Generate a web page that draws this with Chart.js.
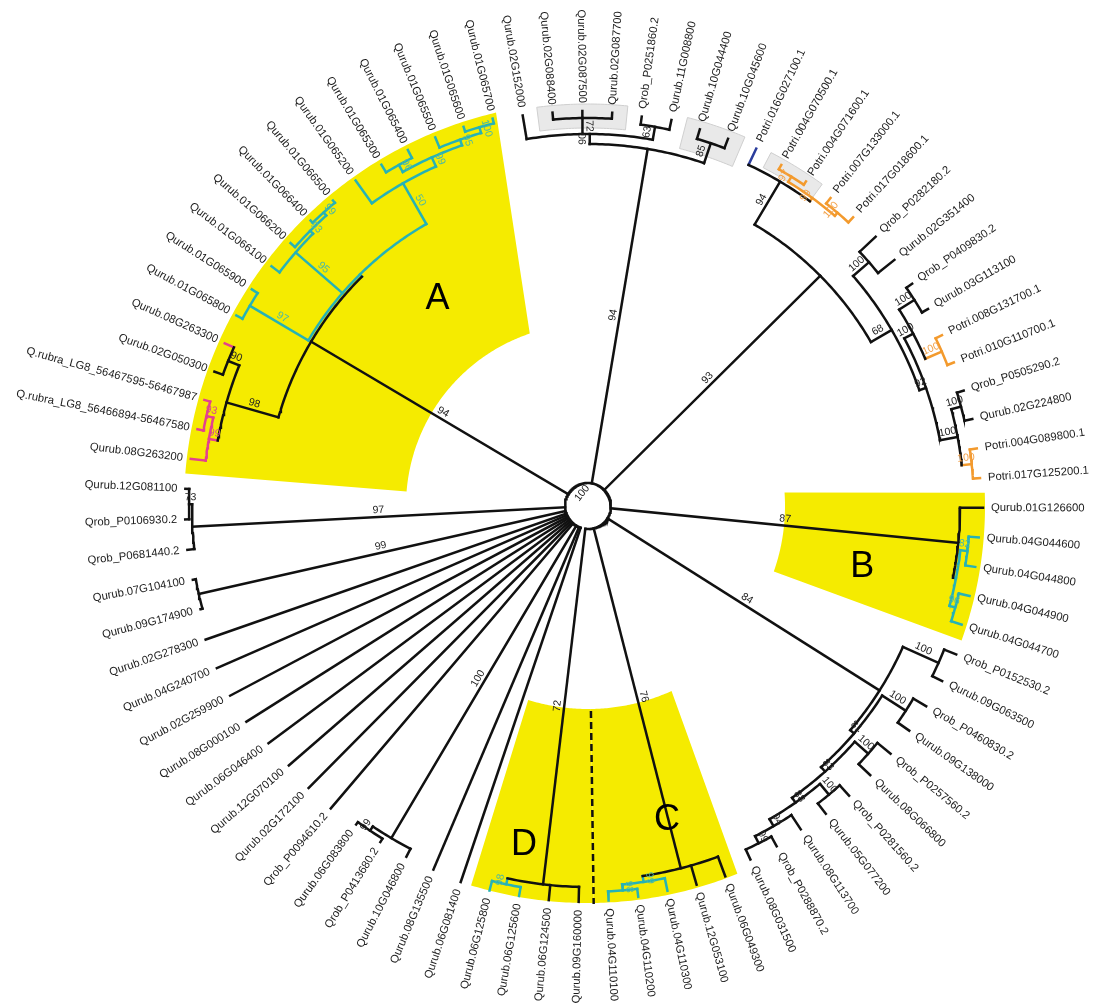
<!DOCTYPE html>
<html>
<head>
<meta charset="utf-8">
<script src="https://cdn.jsdelivr.net/npm/chart.js@4.4.1/dist/chart.umd.min.js"></script>
<style>
  html, body { margin: 0; padding: 0; background: #ffffff; }
  #wrap { width: 1097px; height: 1005px; }
</style>
</head>
<body>
<div id="wrap"><canvas id="c"></canvas></div>
<script>
// ---- Tree data (Newick pieces, branch lengths in radial units, node labels = bootstrap) ----
const basalLineages =
  "Qurub.06G081400:374,Qurub.08G135500:372," +
  "(Qurub.10G046800:9,(Qrob_P0413680.2:4,Qurub.06G083800:3)99:5)100:363," +
  "Qrob_P0094610.2:374,Qurub.02G172100:374,Qurub.12G070100:373,Qurub.06G046400:375," +
  "Qurub.08G000100:381,Qurub.02G259900:382,Qurub.04G240700:382,Qurub.02G278300:382," +
  "(Qurub.09G174900:2,Qurub.07G104100:3)99:376," +
  "(Qrob_P0681440.2:7,(Qrob_P0106930.2:4,Qurub.12G081100:4)73:3)97:373";

const cladeA =
  "(((Qurub.08G263200:15,(Q.rubra_LG8_56466894-56467580:6,Q.rubra_LG8_56467595-56467987:6)93:7)99:9," +
  "(Qurub.02G050300:9,Qurub.08G263300:10)90:12)98:54," +
  "((Qurub.01G065800:7,Qurub.01G065900:7)97:68," +
  "(Qurub.01G066100:10,(Qurub.01G066200:6,(Qurub.01G066400:3,Qurub.01G066500:3)99:4)93:4)95:62," +
  "(Qurub.01G065200:28,((Qurub.01G065300:9,Qurub.01G065400:9)96:8," +
  "(Qurub.01G065500:11,(Qurub.01G065600:5,Qurub.01G065700:5)100:6)95:6)99:10)50:47):3)94:299";

const cladeTop =
  "((Qurub.02G152000:24,(Qurub.02G088400:7,Qurub.02G087500:7,Qurub.02G087700:6)72:16," +
  "(Qrob_P0251860.2:8,Qurub.11G008800:10)63:13)90:10," +
  "(Qurub.10G044400:10,Qurub.10G045600:10)85:21)94:339";

const cladePoplar =
  "((Potri.016G027100.1:18,((Potri.004G070500.1:5,Potri.004G071600.1:4)97:6," +
  "(Potri.007G133000.1:7,Potri.017G018600.1:7)100:4)99:4)94:50," +
  "((Qrob_P0282180.2:22,Qurub.02G351400:21)100:21," +
  "(((Qrob_P0409830.2:7,Qurub.03G113100:7)100:18,(Potri.008G131700.1:7,Potri.010G110700.1:7)100:18)100:10," +
  "((Qrob_P0505290.2:7,Qurub.02G224800:8)100:10,(Potri.004G089800.1:7,Potri.017G125200.1:7)100:10)100:18)92:7)68:24)93:304";

const cladeB =
  "(Qurub.01G126600:23,((Qurub.04G044600:10,Qurub.04G044800:10)82:7," +
  "(Qurub.04G044900:11,Qurub.04G044700:11)96:6):3)87:349";

const cladeLadder =
  "((Qrob_P0152530.2:13,Qurub.09G063500:11)100:39," +
  "((Qrob_P0460830.2:15,Qurub.09G138000:14)100:28," +
  "((Qrob_P0257560.2:17,Qurub.08G066800:16)100:18," +
  "((Qrob_P0281560.2:14,Qurub.05G077200:13)100:14," +
  "(Qurub.08G113700:17,(Qrob_P0288870.2:11,Qurub.08G031500:11)99:8)94:8)88:6)83:6)81:5)84:322";

const cladeC =
  "(Qurub.06G049300:21,Qurub.12G053100:20,(Qurub.04G110300:13,(Qurub.04G110200:8,Qurub.04G110100:9)98:6)99:6)76:351";

const cladeD =
  "(Qurub.09G160000:15,Qurub.06G124500:15,(Qurub.06G125600:9,Qurub.06G125800:10)98:6)72:358";

const rootSupport = "100";
const rootLength = 23;

// coloured sub-clades: [first leaf, last leaf, colour key]
const colourGroups = [
  ["Qurub.01G065800", "Qurub.01G065700", "cyan"],
  ["Qurub.04G044600", "Qurub.04G044700", "cyan"],
  ["Qurub.04G110300", "Qurub.04G110100", "cyan"],
  ["Qurub.06G125600", "Qurub.06G125800", "cyan"],
  ["Qurub.08G263200", "Q.rubra_LG8_56467595-56467987", "pink"],
  ["Qurub.08G263300", "Qurub.08G263300", "pink"],
  ["Potri.016G027100.1", "Potri.016G027100.1", "blue"],
  ["Potri.004G070500.1", "Potri.017G018600.1", "orange"],
  ["Potri.008G131700.1", "Potri.010G110700.1", "orange"],
  ["Potri.004G089800.1", "Potri.017G125200.1", "orange"]
];

// highlighted groups: [letter, first leaf, last leaf]
const highlightGroups = [
  ["A", "Qurub.08G263200", "Qurub.01G065700"],
  ["B", "Qurub.01G126600", "Qurub.04G044700"],
  ["C", "Qurub.06G049300", "Qurub.04G110100"],
  ["D", "Qurub.09G160000", "Qurub.06G125800"]
];

// grey shaded leaf groups: [first leaf, last leaf]
const shadedGroups = [
  ["Qurub.02G088400", "Qurub.02G087700"],
  ["Qurub.10G044400", "Qurub.10G045600"],
  ["Potri.004G070500.1", "Potri.004G071600.1"]
];

// dashed divider between these two neighbouring leaves
const dividerLeaves = ["Qurub.04G110100", "Qurub.09G160000"];

// ---- styling / layout ----
const palette = { black: "#111111", cyan: "#26b2b6", pink: "#e3418e", orange: "#f39a2d", blue: "#2b3d9c" };
const supportInk = { black: "#222222", cyan: "#4db9a2", pink: "#d84a8c", orange: "#f3a24a", blue: "#2b3d9c" };
const firstLeafAngle = 198.7;            // degrees, clockwise from north
const highlightRadii = { A: [182, 404], B: [197, 397], C: [203, 397], D: [203, 397] };
// edge tweaks in degrees: [outer start, outer end, inner start, inner end]
const highlightEdges = { A: [0, -1.5, 0, -7], B: [0, 0, -2, -0.4], C: [0.4, 0, -1.8, 0], D: [0, 0.6, 0, 0.6] };
const letterPolar = { A: [256, 324], B: [281, 102.6], C: [324, 165.9], D: [345, 190.7] };
const shadeRadii = [[378, 402], [369, 401], [381, 398]];
const dividerRadii = [205, 398];
const labelFont = '11.3px "Liberation Sans", Arial, sans-serif';
const supportFont = '10.5px "Liberation Sans", Arial, sans-serif';

// ---- Newick parsing ----
function parseNewick(s) {
  let i = 0;
  function node() {
    const n = { children: [], name: "", len: 0 };
    if (s[i] === "(") {
      i++;
      n.children.push(node());
      while (s[i] === ",") { i++; n.children.push(node()); }
      i++; // ')'
    }
    let name = "";
    while (i < s.length && !",():;".includes(s[i])) name += s[i++];
    n.name = name;
    if (s[i] === ":") {
      i++;
      let num = "";
      while (i < s.length && !",();".includes(s[i])) num += s[i++];
      n.len = parseFloat(num);
    }
    return n;
  }
  return node();
}

const newick = "(" + [basalLineages, cladeA, cladeTop, cladePoplar, cladeB, cladeLadder, cladeC, cladeD].join(",") +
  ")" + rootSupport + ":" + rootLength + ";";
const tree = parseNewick(newick);

// ---- layout ----
const leaves = [];
const allNodes = [];
(function walk(n, parentDepth) {
  n.parentDepth = parentDepth;
  n.depth = parentDepth + n.len;
  allNodes.push(n);
  if (!n.children.length) { n.index = leaves.length; leaves.push(n); }
  n.children.forEach(c => walk(c, n.depth));
})(tree, 0);

const step = 360 / leaves.length;
const leafIdx = {};
leaves.forEach(l => { l.angle = firstLeafAngle + l.index * step; leafIdx[l.name] = l.index; });

(function place(n) {
  if (!n.children.length) { n.lo = n.hi = n.index; return; }
  n.children.forEach(place);
  const f = n.children[0], l = n.children[n.children.length - 1];
  n.angle = (f.angle + l.angle) / 2;
  n.lo = f.lo; n.hi = l.hi;
})(tree);

const colourRanges = colourGroups.map(g => [leafIdx[g[0]], leafIdx[g[1]], g[2]]);
allNodes.forEach(n => {
  n.colour = "black";
  colourRanges.forEach(r => { if (n.lo >= r[0] && n.hi <= r[1]) n.colour = r[2]; });
});

function pol(r, deg) {
  const a = deg * Math.PI / 180;
  return { x: r * Math.sin(a), y: r * Math.cos(a) };
}
function arcPts(r, a0, a1) {
  const pts = [];
  const n = Math.max(2, Math.ceil(Math.abs(a1 - a0) / 0.5) + 1);
  for (let k = 0; k < n; k++) pts.push(pol(r, a0 + (a1 - a0) * k / (n - 1)));
  return pts;
}

// ---- branch datasets ----
const datasets = [];
function addLine(pts, colour, extra) {
  datasets.push(Object.assign({
    data: pts, showLine: true, borderColor: palette[colour], borderWidth: 2.5,
    pointRadius: 0, fill: false, tension: 0, borderCapStyle: "square", borderJoinStyle: "miter"
  }, extra || {}));
}
allNodes.forEach(n => {
  if (n.children.length) {
    const f = n.children[0], l = n.children[n.children.length - 1];
    addLine(arcPts(n.depth, f.angle, l.angle), n.colour);
  }
});
allNodes.forEach(n => {
  if (n === tree) return;
  addLine([pol(n.parentDepth, n.angle), pol(n.depth, n.angle)], n.colour);
});
{
  const a = (leaves[leafIdx[dividerLeaves[0]]].angle + leaves[leafIdx[dividerLeaves[1]]].angle) / 2;
  addLine([pol(dividerRadii[0], a), pol(dividerRadii[1], a)], "black", { borderDash: [7, 4], borderCapStyle: "butt" });
}

// ---- decorations: highlight sectors, shading, labels ----
function norm(a) { return ((a % 360) + 360) % 360; }

const decor = {
  id: "treeDecor",
  beforeDatasetsDraw(chart) {
    const ctx = chart.ctx, xs = chart.scales.x, ys = chart.scales.y;
    const px = p => [xs.getPixelForValue(p.x), ys.getPixelForValue(p.y)];
    function sector(o0, o1, i0, i1, r0, r1) {
      ctx.beginPath();
      arcPts(r1, o0, o1).forEach((p, k) => { const q = px(p); k ? ctx.lineTo(q[0], q[1]) : ctx.moveTo(q[0], q[1]); });
      arcPts(r0, i1, i0).forEach(p => { const q = px(p); ctx.lineTo(q[0], q[1]); });
      ctx.closePath();
    }
    ctx.save();
    highlightGroups.forEach(h => {
      const a0 = leaves[leafIdx[h[1]]].angle - step / 2, a1 = leaves[leafIdx[h[2]]].angle + step / 2;
      const rr = highlightRadii[h[0]], e = highlightEdges[h[0]];
      sector(a0 + e[0], a1 + e[1], a0 + e[2], a1 + e[3], rr[0], rr[1]);
      ctx.fillStyle = "#f5eb00";
      ctx.fill();
    });
    shadedGroups.forEach((g, k) => {
      const a0 = leaves[leafIdx[g[0]]].angle - step / 2, a1 = leaves[leafIdx[g[1]]].angle + step / 2;
      sector(a0, a1, a0, a1, shadeRadii[k][0], shadeRadii[k][1]);
      ctx.fillStyle = "#e9e9e9";
      ctx.fill();
      ctx.strokeStyle = "#cfcfcf";
      ctx.lineWidth = 1;
      ctx.stroke();
    });
    ctx.restore();
  },
  afterDatasetsDraw(chart) {
    const ctx = chart.ctx, xs = chart.scales.x, ys = chart.scales.y;
    const px = p => [xs.getPixelForValue(p.x), ys.getPixelForValue(p.y)];
    function rotFor(a) {
      const t = norm(a);
      return t < 180 ? { rot: (t - 90) * Math.PI / 180, right: true } : { rot: (t - 270) * Math.PI / 180, right: false };
    }
    ctx.save();
    // leaf names
    ctx.font = labelFont;
    ctx.fillStyle = "#1c1c1c";
    ctx.textBaseline = "middle";
    leaves.forEach(l => {
      const q = px(pol(l.depth + 8, l.angle));
      const o = rotFor(l.angle);
      ctx.save();
      ctx.translate(q[0], q[1]);
      ctx.rotate(o.rot);
      ctx.textAlign = o.right ? "left" : "right";
      ctx.fillText(l.name, 0, 0);
      ctx.restore();
    });
    // support values at branch midpoints
    ctx.font = supportFont;
    ctx.textAlign = "center";
    ctx.textBaseline = "bottom";
    allNodes.forEach(n => {
      if (!n.children.length || !n.name || n === tree) return;
      const q = px(pol((n.parentDepth + n.depth) / 2, n.angle));
      const o = rotFor(n.angle);
      ctx.save();
      ctx.translate(q[0], q[1]);
      ctx.rotate(o.rot);
      ctx.fillStyle = supportInk[n.colour];
      ctx.fillText(n.name, 0, -1.5);
      ctx.restore();
    });
    // root support
    {
      const q = px(pol(13, 338));
      ctx.save();
      ctx.translate(q[0], q[1]);
      ctx.rotate(-0.9);
      ctx.fillStyle = supportInk.black;
      ctx.fillText(tree.name, 0, 4);
      ctx.restore();
    }
    // clade letters
    ctx.font = '36px "Liberation Sans", Arial, sans-serif';
    ctx.fillStyle = "#000000";
    ctx.textBaseline = "middle";
    highlightGroups.forEach(h => {
      const lp = letterPolar[h[0]];
      const q = px(pol(lp[0], lp[1]));
      ctx.fillText(h[0], q[0], q[1]);
    });
    ctx.restore();
  }
};

Chart.defaults.font.family = '"Liberation Sans", Arial, sans-serif';
new Chart(document.getElementById("c"), {
  type: "scatter",
  data: { datasets },
  options: {
    responsive: true,
    maintainAspectRatio: false,
    animation: false,
    events: [],
    layout: { padding: 0 },
    scales: {
      x: { type: "linear", min: -588, max: 509, display: false },
      y: { type: "linear", min: -499, max: 506, display: false }
    },
    plugins: { legend: { display: false }, tooltip: { enabled: false } }
  },
  plugins: [decor]
});
</script>
</body>
</html>
